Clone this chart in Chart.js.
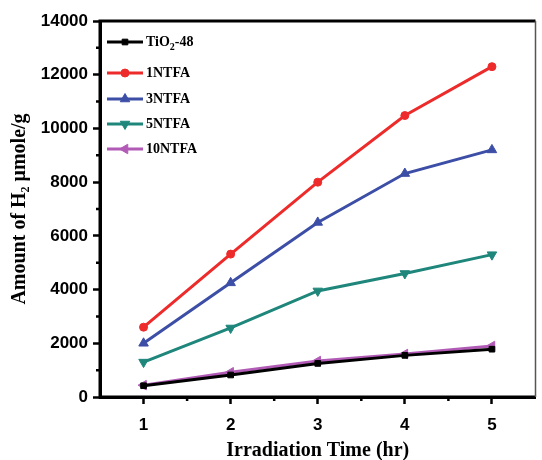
<!DOCTYPE html>
<html>
<head>
<meta charset="utf-8">
<script src="https://cdn.jsdelivr.net/npm/chart.js@4.4.1/dist/chart.umd.min.js"></script>
<style>
  html, body { margin: 0; padding: 0; background: #fff; }
  #wrap { width: 542px; height: 460px; }
</style>
</head>
<body>
<div id="wrap"><canvas id="h2Chart" width="542" height="460"></canvas></div>
<script>
// Irradiation time (hr) and H2 amount (umole/g)
const hours = [1, 2, 3, 4, 5];
const tio2_48 = [420, 820, 1250, 1550, 1780];
const ntfa1 = [2600, 5320, 8000, 10480, 12300];
const ntfa3 = [2000, 4250, 6500, 8320, 9200];
const ntfa5 = [1300, 2570, 3950, 4600, 5300];
const ntfa10 = [440, 920, 1340, 1600, 1900];

const xTicks = [1, 2, 3, 4, 5];
const xMinor = [1.5, 2.5, 3.5, 4.5];
const yMinor = [1000, 3000, 5000, 7000, 9000, 11000, 13000];

const serif = '"Liberation Serif", "Times New Roman", serif';
const sans = '"Liberation Sans", Arial, sans-serif';

function pts(arr) {
  return hours.map((h, i) => ({ x: h, y: arr[i] }));
}

function series(label, arr, color, style, rot, r) {
  return {
    label: label,
    data: pts(arr),
    borderColor: color,
    backgroundColor: color,
    borderWidth: 3,
    pointStyle: style,
    rotation: rot,
    pointRadius: r,
    pointBorderWidth: 1,
    tension: 0
  };
}

// box, minor ticks and in-plot legend
const frame = {
  id: 'frame',
  afterDraw(chart) {
    const c = chart.ctx;
    const a = chart.chartArea;
    const xs = chart.scales.x, ys = chart.scales.y;
    c.save();
    c.strokeStyle = '#000';
    c.lineWidth = 3;
    c.beginPath();
    c.moveTo(a.right, a.top); c.lineTo(a.left, a.top);
    c.lineTo(a.left, a.bottom); c.lineTo(a.right, a.bottom);
    c.stroke();
    c.lineWidth = 1.5;
    c.strokeStyle = '#555';
    c.beginPath();
    c.moveTo(a.right, a.top); c.lineTo(a.right, a.bottom);
    c.stroke();

    // minor ticks
    c.strokeStyle = '#000';
    c.lineWidth = 2.5;
    c.beginPath();
    xMinor.forEach(v => {
      const px = xs.getPixelForValue(v);
      c.moveTo(px, a.bottom); c.lineTo(px, a.bottom + 4);
    });
    yMinor.forEach(v => {
      const py = ys.getPixelForValue(v);
      c.moveTo(a.left, py); c.lineTo(a.left - 4, py);
    });
    c.stroke();

    // legend
    const rows = [21, 52, 78, 103, 128];
    const x0 = a.left + 7;
    chart.data.datasets.forEach((ds, i) => {
      const y = a.top + rows[i];
      c.strokeStyle = ds.borderColor;
      c.fillStyle = ds.backgroundColor;
      c.lineWidth = 3;
      c.beginPath();
      c.moveTo(x0, y); c.lineTo(x0 + 36, y);
      c.stroke();
      c.lineWidth = 1;
      Chart.helpers.drawPoint(c, {
        pointStyle: ds.pointStyle, rotation: ds.rotation,
        radius: ds.pointRadius, borderWidth: 1
      }, x0 + 18, y);
      c.fillStyle = '#000';
      c.font = 'bold 14px ' + serif;
      c.textBaseline = 'middle';
      c.textAlign = 'left';
      let tx = x0 + 39;
      if (ds.label === 'TiO2-48') {
        c.fillText('TiO', tx, y);
        tx += c.measureText('TiO').width;
        c.font = 'bold 10px ' + serif;
        c.fillText('2', tx, y + 5);
        tx += c.measureText('2').width;
        c.font = 'bold 14px ' + serif;
        c.fillText('-48', tx, y);
      } else {
        c.fillText(ds.label, tx, y);
      }
    });
    c.restore();
  }
};

const ctx = document.getElementById('h2Chart').getContext('2d');
const h2Chart = new Chart(ctx, {
  type: 'line',
  data: {
    datasets: [
      series('TiO2-48', tio2_48, '#000000', 'rect', 0, 4),
      series('1NTFA', ntfa1, '#ee2b2b', 'circle', 0, 4),
      series('3NTFA', ntfa3, '#3c4ea6', 'triangle', 0, 5.5),
      series('5NTFA', ntfa5, '#1f867c', 'triangle', 180, 5.5),
      series('10NTFA', ntfa10, '#b25bb6', 'triangle', -90, 5.5)
    ]
  },
  options: {
    responsive: false,
    animation: false,
    layout: { padding: { top: 21, right: 1, left: 0, bottom: 0 } },
    plugins: {
      legend: { display: false },
      tooltip: { enabled: false }
    },
    scales: {
      x: {
        type: 'linear',
        min: 0.5,
        max: 5.5,
        afterBuildTicks: s => { s.ticks = xTicks.map(v => ({ value: v })); },
        afterFit: s => { s.height = 63; },
        grid: { drawOnChartArea: false, tickLength: 7, tickWidth: 2.5, tickColor: '#000' },
        border: { color: '#000', width: 3 },
        ticks: { color: '#000', font: { family: sans, size: 17, weight: 'bold' }, padding: 11 },
        title: {
          display: true,
          text: 'Irradiation Time (hr)',
          color: '#000',
          font: { family: serif, size: 20, weight: 'bold' },
          padding: { top: 0, bottom: -3 }
        }
      },
      y: {
        min: 0,
        max: 14000,
        afterFit: s => { s.width = 100; },
        grid: { drawOnChartArea: false, tickLength: 7, tickWidth: 2.5, tickColor: '#000' },
        border: { color: '#000', width: 3 },
        ticks: {
          stepSize: 2000, color: '#000', font: { family: sans, size: 17, weight: 'bold' }, padding: 5,
          callback: v => String(v)
        },
        title: {
          display: true,
          text: 'Amount of H\u2082 \u03bcmole/g',
          color: '#000',
          font: { family: serif, size: 20, weight: 'bold' },
          padding: { top: 8, bottom: 0 }
        }
      }
    }
  },
  plugins: [frame]
});
</script>
</body>
</html>
